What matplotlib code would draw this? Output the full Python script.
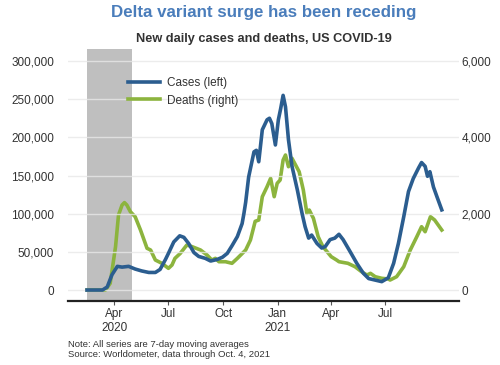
import numpy as np
import pandas as pd
import matplotlib
matplotlib.use('Agg')
import matplotlib.pyplot as plt
from matplotlib.lines import Line2D

plt.rcParams['font.family'] = ['Liberation Sans', 'DejaVu Sans']

# 7-day average new cases
case_dates = ['2020-02-15', '2020-03-12', '2020-03-20', '2020-03-28', '2020-04-06',
              '2020-04-14', '2020-04-25', '2020-05-06', '2020-05-17', '2020-05-29',
              '2020-06-09', '2020-06-17', '2020-06-26', '2020-07-01', '2020-07-10',
              '2020-07-20', '2020-07-27', '2020-08-04', '2020-08-13', '2020-08-21',
              '2020-09-01', '2020-09-10', '2020-09-21', '2020-09-30', '2020-10-08',
              '2020-10-16', '2020-10-25', '2020-11-02', '2020-11-05', '2020-11-08',
              '2020-11-13', '2020-11-22', '2020-11-26', '2020-11-30', '2020-12-06',
              '2020-12-14', '2020-12-18', '2020-12-22', '2020-12-28', '2021-01-02',
              '2021-01-06', '2021-01-10', '2021-01-14', '2021-01-19', '2021-01-25',
              '2021-02-03', '2021-02-11', '2021-02-16', '2021-02-22', '2021-02-27',
              '2021-03-08', '2021-03-16', '2021-03-22', '2021-03-30', '2021-04-07',
              '2021-04-14', '2021-04-21', '2021-05-03', '2021-05-14', '2021-05-25',
              '2021-06-03', '2021-06-14', '2021-06-25', '2021-07-06', '2021-07-15',
              '2021-07-23', '2021-08-01', '2021-08-09', '2021-08-17', '2021-08-26',
              '2021-08-31', '2021-09-06', '2021-09-10', '2021-09-14', '2021-09-20',
              '2021-09-26', '2021-10-04']
cases = [0, 0, 4000, 20000, 31000,
         30000, 31000, 27500, 25000, 23000,
         23000, 27000, 40000, 48000, 63000,
         71000, 69000, 61000, 49000, 44000,
         41500, 38000, 40000, 43000, 48000,
         58000, 70000, 87000, 100000, 115000,
         148000, 181000, 183000, 168000, 210000,
         223000, 225000, 218000, 190000, 223000,
         238000, 255000, 240000, 197000, 162000,
         131000, 100000, 83000, 68000, 72000,
         61000, 55000, 57000, 66000, 68000,
         73000, 66000, 50000, 35000, 22000,
         15000, 13000, 11000, 16000, 35000,
         61000, 96000, 129000, 146000, 160000,
         167000, 162000, 149000, 155000, 135000,
         122000, 105000]

# 7-day average new deaths
death_dates = ['2020-02-15', '2020-03-17', '2020-03-25', '2020-04-03', '2020-04-08',
               '2020-04-14', '2020-04-18', '2020-04-22', '2020-04-28', '2020-05-06',
               '2020-05-15', '2020-05-26', '2020-06-01', '2020-06-09', '2020-06-20',
               '2020-07-01', '2020-07-07', '2020-07-12', '2020-07-21', '2020-08-01',
               '2020-08-10', '2020-08-24', '2020-09-04', '2020-09-12', '2020-09-18',
               '2020-09-24', '2020-10-05', '2020-10-16', '2020-10-25', '2020-11-08',
               '2020-11-16', '2020-11-24', '2020-11-30', '2020-12-06', '2020-12-14',
               '2020-12-20', '2020-12-26', '2020-12-31', '2021-01-05', '2021-01-10',
               '2021-01-14', '2021-01-19', '2021-01-25', '2021-01-31', '2021-02-06',
               '2021-02-13', '2021-02-19', '2021-02-23', '2021-03-02', '2021-03-10',
               '2021-03-18', '2021-04-01', '2021-04-10', '2021-04-14', '2021-04-29',
               '2021-05-11', '2021-05-22', '2021-05-31', '2021-06-06', '2021-06-14',
               '2021-06-25', '2021-07-06', '2021-07-09', '2021-07-20', '2021-08-01',
               '2021-08-12', '2021-08-23', '2021-08-31', '2021-09-06', '2021-09-11',
               '2021-09-15', '2021-09-22', '2021-10-04']
deaths = [0, 0, 175, 1135, 1965,
          2227, 2290, 2227, 2051, 1921,
          1572, 1093, 1048, 786, 700,
          568, 655, 830, 961, 1179,
          1135, 1048, 917, 786, 830,
          742, 742, 700, 830, 1048,
          1310, 1800, 1834, 2445, 2707,
          2926, 2445, 2795, 2882, 3406,
          3537, 3231, 3450, 3275, 3100,
          2620, 2009, 2096, 1878, 1397,
          1135, 873, 786, 742, 700,
          611, 480, 393, 437, 349,
          307, 290, 262, 349, 611,
          1048, 1397, 1659, 1528, 1747,
          1921, 1834, 1572]

left_ticks = [0, 50000, 100000, 150000, 200000, 250000, 300000]
right_ticks = [0, 2000, 4000, 6000]
recession = ('2020-02-15', '2020-04-30')

blue = '#2b5d8f'
green = '#8cb43e'
grid_c = '#e8e8e8'
text_c = '#333333'

fig = plt.figure(figsize=(5, 3.65), dpi=100)
ax = fig.add_axes([0.136, 0.1753, 0.782, 0.6904])
ax2 = ax.twinx()

cd = pd.to_datetime(case_dates)
dd = pd.to_datetime(death_dates)

# shading goes on the lower axes so both lines sit on top of it
ax.set_zorder(2)
ax.patch.set_visible(False)
ax2.set_zorder(1)
ax2.axvspan(pd.Timestamp(recession[0]), pd.Timestamp(recession[1]),
            color='#bfbfbf', lw=0, zorder=0)
for t in left_ticks:
    ax.axhline(t, color=grid_c, lw=1, zorder=0, alpha=0.8)

ax.plot(cd, cases, color=blue, lw=2.6, zorder=4, solid_joinstyle='round')
ax2.plot(dd, deaths, color=green, lw=2.6, zorder=3, solid_joinstyle='round')

ax.set_ylim(-14400, 315700)
ax2.set_ylim(-288, 6314)
ax.set_xlim(pd.Timestamp('2020-01-14'), pd.Timestamp('2021-11-02'))

ax.set_yticks(left_ticks)
ax.set_yticklabels([f'{v:,}' for v in left_ticks])
ax2.set_yticks(right_ticks)
ax2.set_yticklabels([f'{v:,}' for v in right_ticks])

xt = pd.to_datetime(['2020-04-01', '2020-07-01', '2020-10-01', '2021-01-01',
                     '2021-04-01', '2021-07-01'])
ax.set_xticks(xt)
ax.set_xticklabels(['Apr\n2020', 'Jul', 'Oct', 'Jan\n2021', 'Apr', 'Jul'])

for a in (ax, ax2):
    for s in ('top', 'left', 'right', 'bottom'):
        a.spines[s].set_visible(False)
ax.spines['bottom'].set_visible(True)
ax.spines['bottom'].set_color('#222222')
ax.spines['bottom'].set_linewidth(1.6)

ax.tick_params(axis='y', length=0, pad=10, labelsize=8.5, labelcolor=text_c)
ax2.tick_params(axis='y', length=0, pad=2, labelsize=8.5, labelcolor=text_c)
ax.tick_params(axis='x', length=3, color='#555555', width=0.8, pad=2,
               labelsize=8.5, labelcolor=text_c)

handles = [Line2D([], [], color=blue, lw=2.6), Line2D([], [], color=green, lw=2.6)]
ax.legend(handles, ['Cases (left)', 'Deaths (right)'], loc='upper left',
          bbox_to_anchor=(0.127, 0.93), frameon=False, fontsize=8.5,
          handlelength=2.7, handletextpad=0.6, labelspacing=0.45,
          labelcolor=text_c)

fig.text(0.528, 0.965, 'Delta variant surge has been receding', ha='center',
         va='center', fontsize=12.2, fontweight='bold', color='#4a7dbb')
fig.text(0.528, 0.893, 'New daily cases and deaths, US COVID-19', ha='center',
         va='center', fontsize=9.2, fontweight='bold', color=text_c)
fig.text(0.136, 0.042, 'Note: All series are 7-day moving averages\n'
         'Source: Worldometer, data through Oct. 4, 2021', ha='left', va='center',
         fontsize=6.8, color=text_c, linespacing=1.1)

fig.savefig('out.png', dpi=100)
